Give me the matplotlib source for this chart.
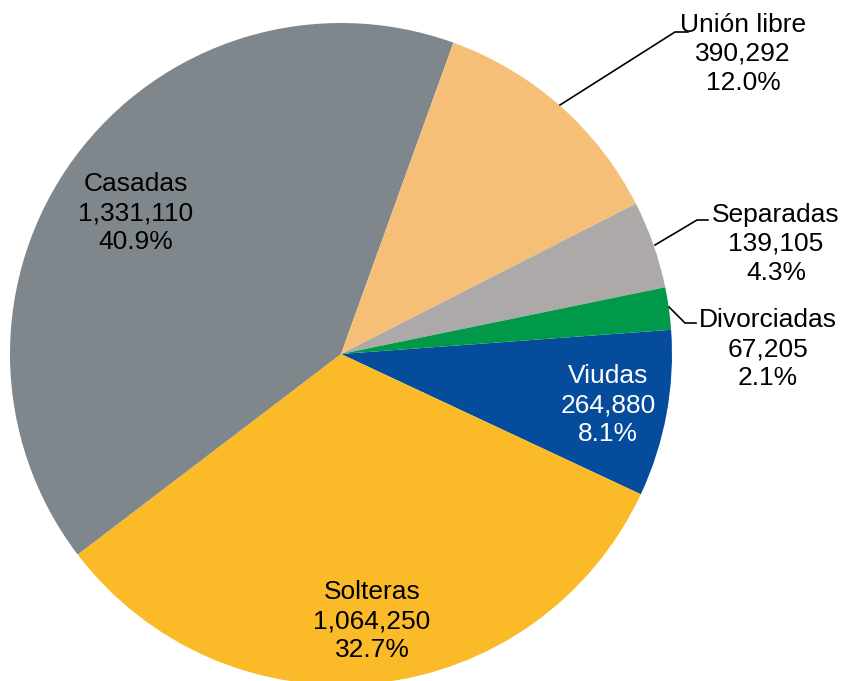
import matplotlib
matplotlib.use("Agg")
import matplotlib.pyplot as plt

categories = ["Viudas", "Solteras", "Casadas", "Unión libre", "Separadas", "Divorciadas"]
values = [264880, 1064250, 1331110, 390292, 139105, 67205]
percents = ["8.1%", "32.7%", "40.9%", "12.0%", "4.3%", "2.1%"]
colors = ["#064C9C", "#FBBA28", "#7F878C", "#F6BF78", "#ADA9A8", "#00994A"]

plt.rcParams['font.family'] = ['Liberation Sans', 'DejaVu Sans']

W, H = 846, 681
fig = plt.figure(figsize=(W / 100, H / 100), dpi=100)
ax = fig.add_axes([0, 0, 1, 1])

cx, cy, r = 341, H - 354, 331
ax.pie(values, colors=colors, startangle=4.2, counterclock=False,
       center=(cx, cy), radius=r, frame=True,
       wedgeprops=dict(linewidth=0))
ax.set_xlim(0, W)
ax.set_ylim(0, H)
ax.set_aspect('equal')
ax.axis('off')

def lbl(i):
    return f"{categories[i]}\n{values[i]:,}\n{percents[i]}"

fs = 19
ls = 1.28
# inside labels
ax.text(136, H - 213, lbl(2), ha='center', va='center', fontsize=fs, color='black', linespacing=ls)
ax.text(372, H - 621, lbl(1), ha='center', va='center', fontsize=fs, color='black', linespacing=ls)
ax.text(608, H - 405, lbl(0), ha='center', va='center', fontsize=fs, color='white', linespacing=ls)
# outside labels
ax.text(743, H - 54, lbl(3), ha='center', va='center', fontsize=fs, color='black', linespacing=ls)
ax.text(776, H - 244, lbl(4), ha='center', va='center', fontsize=fs, color='black', linespacing=ls)
ax.text(768, H - 349, lbl(5), ha='center', va='center', fontsize=fs, color='black', linespacing=ls)

# leader lines
ax.plot([560, 675, 688], [H - 105, H - 32, H - 32], color='black', lw=1.2)
ax.plot([655, 697, 708], [H - 245, H - 220, H - 220], color='black', lw=1.2)
ax.plot([669, 685, 696], [H - 307, H - 323, H - 323], color='black', lw=1.2)

fig.savefig("out.png", dpi=100)
